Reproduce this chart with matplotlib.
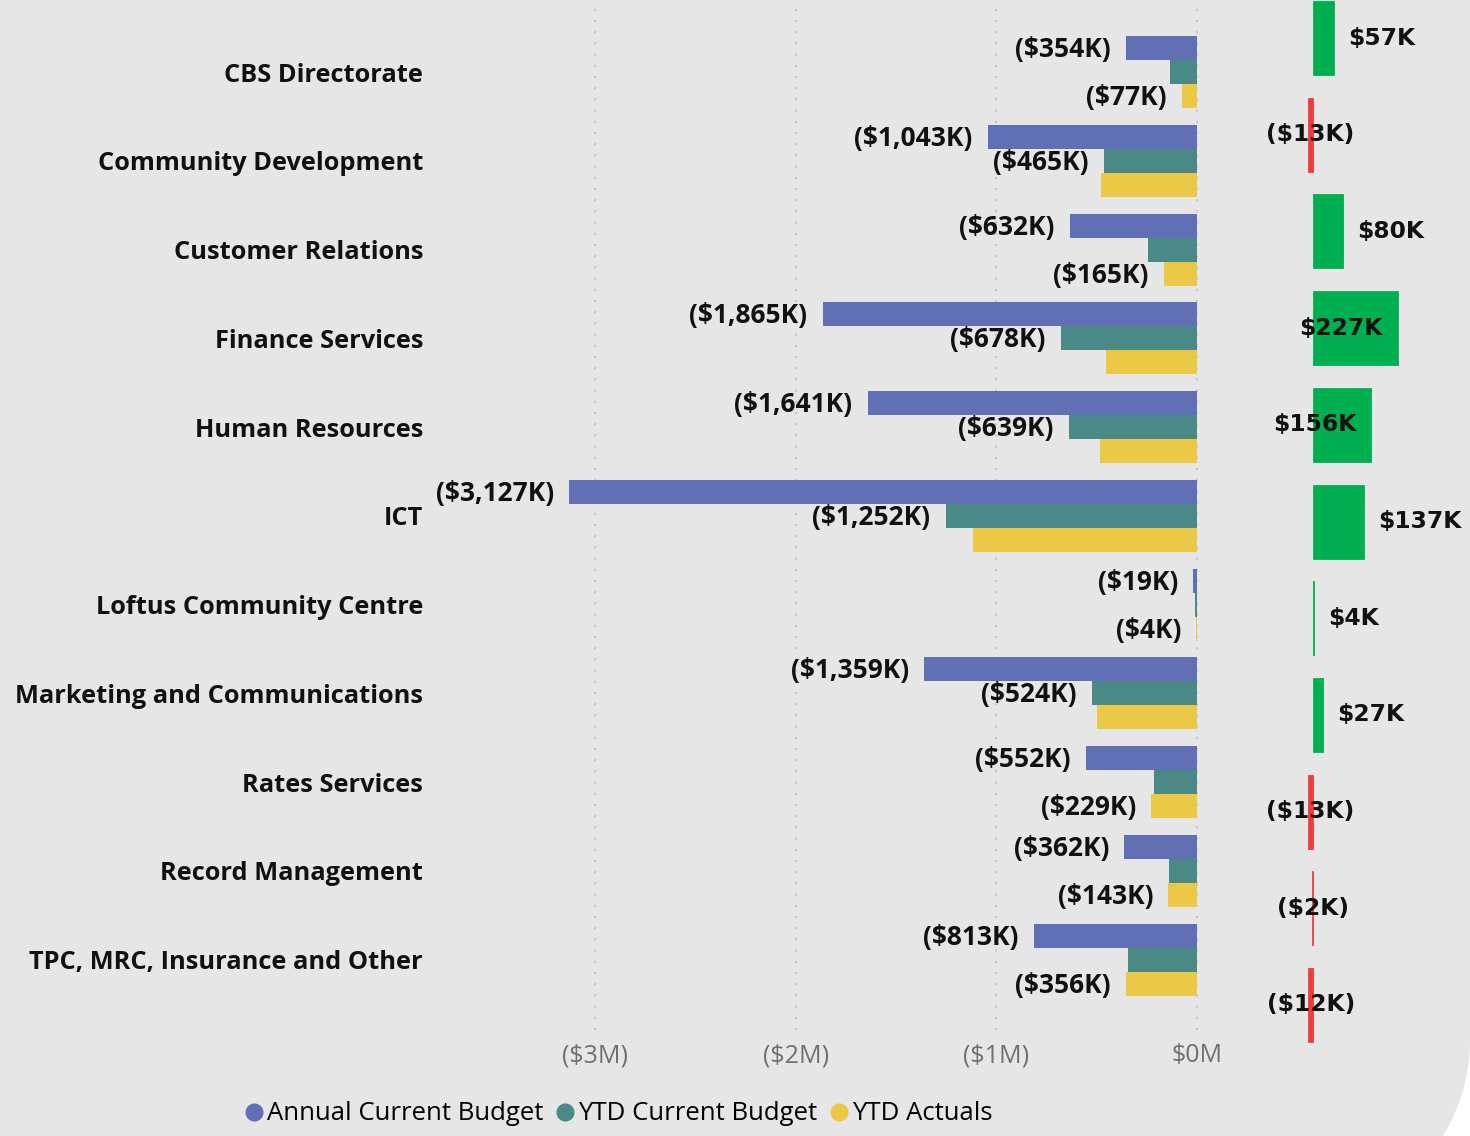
import numpy as np
import matplotlib
matplotlib.use("Agg")
import matplotlib.pyplot as plt
from matplotlib.lines import Line2D
from matplotlib.patches import Polygon

# ---- data (values in $K, costs shown as negatives) ----
categories = [
    "CBS Directorate",
    "Community Development",
    "Customer Relations",
    "Finance Services",
    "Human Resources",
    "ICT",
    "Loftus Community Centre",
    "Marketing and Communications",
    "Rates Services",
    "Record Management",
    "TPC, MRC, Insurance and Other",
]
annual_budget = [-354, -1043, -632, -1865, -1641, -3127, -19, -1359, -552, -362, -813]
ytd_budget = [-134, -465, -245, -678, -639, -1252, -8, -524, -216, -141, -344]
ytd_actuals = [-77, -478, -165, -451, -483, -1115, -4, -497, -229, -143, -356]
variance = [57, -13, 80, 227, 156, 137, 4, 27, -13, -2, -12]

series_names = ["Annual Current Budget", "YTD Current Budget", "YTD Actuals"]
tick_values = [-3000, -2000, -1000, 0]
tick_labels = ["($3M)", "($2M)", "($1M)", "$0M"]

# ---- style ----
BG = "#e6e6e6"
COLORS = ["#6170b5", "#4a8985", "#ebc845"]
GREEN = "#00b050"
RED = "#f03c3c"
FONT = "Open Sans"

W, H = 1470, 1136
fig = plt.figure(figsize=(W / 100, H / 100), dpi=100)
fig.patch.set_facecolor(BG)


def px_axes(l, t, r, b):
    return fig.add_axes([l / W, 1 - b / H, (r - l) / W, (b - t) / H])


def fmt_k(v):
    s = f"${abs(v):,.0f}K"
    return f"({s})" if v < 0 else s


# rounded corner of the card in the lower right
cx, cy, R = 1286, 1040, 184
ang = np.linspace(0, np.pi / 2, 60)
arc = [((cx + R * np.cos(a)) / W, 1 - (cy + R * np.sin(a)) / H) for a in ang]
corner = arc + [(1.0, 0.0)]
fig.patches.append(Polygon(corner, closed=True, transform=fig.transFigure,
                           facecolor="white", edgecolor="none", zorder=-1))

# ---- left panel: grouped horizontal bars ----
ax = px_axes(430, 5, 1240, 1030)
ax.set_facecolor("none")
y = np.arange(len(categories))
bh = 24 / 88.75
offsets = [-bh, 0, bh]
all_series = [annual_budget, ytd_budget, ytd_actuals]
for vals, off, col in zip(all_series, offsets, COLORS):
    ax.barh(y + off, vals, height=bh, color=col, zorder=2)

ax.set_xlim(-3821.6, 214.3)
ax.set_ylim(10.794, -0.755)
for v in tick_values:
    ax.axvline(v, color="#c4c4c4", lw=1.44, linestyle=(0, (1, 4.6)), zorder=1)

ax.set_xticks(tick_values)
ax.set_xticklabels(tick_labels, fontsize=18, color="#707070", family=FONT)
ax.set_yticks(y)
ax.set_yticklabels(categories, fontsize=18.3, fontweight="bold", family=FONT, color="#111111")
ax.tick_params(axis="x", length=0, pad=9.5)
ax.tick_params(axis="y", length=0, pad=5)
for s in ax.spines.values():
    s.set_visible(False)

lab_kw = dict(textcoords="offset points", ha="right", va="center",
              fontsize=19, fontweight="bold", family=FONT, color="#111111", zorder=3)
for i in range(len(categories)):
    # annual budget label always shown
    ax.annotate(fmt_k(annual_budget[i]), (annual_budget[i], i + offsets[0]),
                xytext=(-11, -1.2), **lab_kw)
    # second label: YTD budget when its bar is long, else YTD actuals
    if abs(ytd_budget[i]) > 400:
        ax.annotate(fmt_k(ytd_budget[i]), (ytd_budget[i], i + offsets[1]),
                    xytext=(-11, -1.2), **lab_kw)
    else:
        ax.annotate(fmt_k(ytd_actuals[i]), (ytd_actuals[i], i + offsets[2]),
                    xytext=(-11, -1.2), **lab_kw)

# ---- right panel: variance bars ----
ax2 = px_axes(1250, -10.35, 1470, 1053.35)
ax2.set_facecolor("none")
ax2.set_xlim(-168, 418.7)
ax2.set_ylim(10.5, -0.5)
vcols = [GREEN if v >= 0 else RED for v in variance]
ax2.barh(y, variance, height=74 / 96.7, color=vcols, edgecolor=vcols,
         linewidth=0.6, zorder=2)
ax2.axis("off")

vkw = dict(va="center", fontsize=16.8, fontweight="bold", family="DejaVu Sans",
           color="#111111", zorder=3)
for i, v in enumerate(variance):
    if v >= 150:
        ax2.annotate(fmt_k(v), (v, i), xytext=(-11, 0), textcoords="offset points",
                     ha="right", **vkw)
    elif v >= 0:
        ax2.annotate(fmt_k(v), (v, i), xytext=(10, 0), textcoords="offset points",
                     ha="left", **vkw)
    else:
        ax2.text(v / 2, i, fmt_k(v), ha="center", **vkw)

# ---- legend ----
handles = [Line2D([], [], marker="o", linestyle="none", markersize=12,
                  markerfacecolor=c, markeredgecolor=c) for c in COLORS]
fig.legend(handles, series_names, loc="center", bbox_to_anchor=(617 / W, 1 - 1114 / H),
           ncol=3, frameon=False, handletextpad=0.0, columnspacing=0.35,
           handlelength=1.0, prop={"family": FONT, "size": 18.5})

fig.savefig("out.png", dpi=100, facecolor=fig.get_facecolor())
